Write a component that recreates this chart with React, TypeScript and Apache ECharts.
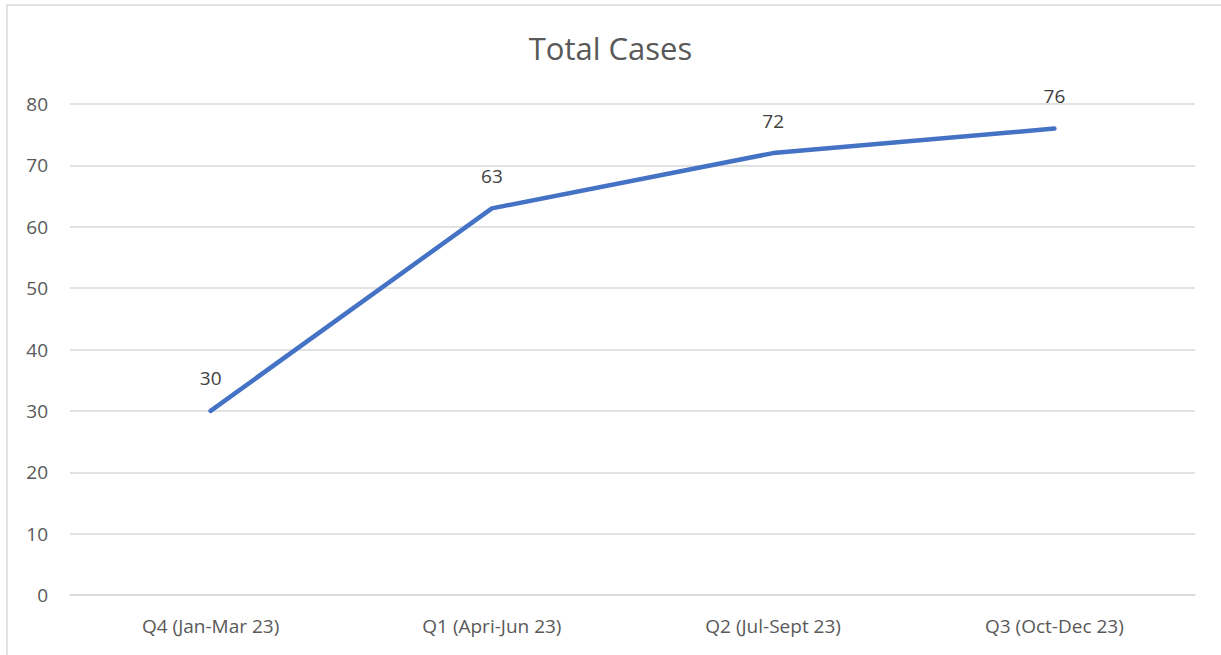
import React, { useEffect, useRef } from "react";
import * as echarts from "echarts";

const categories = ["Q4 (Jan-Mar 23)", "Q1 (Apri-Jun 23)", "Q2 (Jul-Sept 23)", "Q3 (Oct-Dec 23)"];
const totalCases = [30, 63, 72, 76];
const chartTitle = "Total Cases";

export default function App() {
  const ref = useRef<HTMLDivElement>(null);
  useEffect(() => {
    if (!ref.current) return;
    const chart = echarts.init(ref.current, null, { renderer: "svg" });
    const font = "'Open Sans', 'Liberation Sans', sans-serif";
    chart.setOption({
      animation: false,
      backgroundColor: "#ffffff",
      title: {
        text: chartTitle,
        left: "center",
        top: 27,
        textStyle: { fontFamily: font, fontSize: 31, fontWeight: "normal", color: "#595959" },
      },
      graphic: [
        {
          type: "rect",
          shape: { x: 7, y: 5, width: 1400, height: 800 },
          style: { fill: "none", stroke: "#d9d9d9", lineWidth: 1.5 },
          silent: true,
          z: -1,
        },
      ],
      grid: { left: 70, right: 26, top: 104, bottom: 60 },
      xAxis: {
        type: "category",
        data: categories,
        boundaryGap: true,
        axisLine: { lineStyle: { color: "#d9d9d9", width: 1.5 } },
        axisTick: { show: false },
        axisLabel: { color: "#595959", fontFamily: font, fontSize: 19, margin: 21 },
      },
      yAxis: {
        type: "value",
        min: 0,
        max: 80,
        interval: 10,
        axisLine: { show: false },
        axisTick: { show: false },
        splitLine: { lineStyle: { color: "#d9d9d9", width: 1.5 } },
        axisLabel: { color: "#595959", fontFamily: font, fontSize: 19, margin: 22 },
      },
      series: [
        {
          type: "line",
          data: totalCases,
          symbol: "circle",
          symbolSize: 0,
          showSymbol: true,
          lineStyle: { color: "#4472C4", width: 4.5, cap: "round", join: "round" },
          itemStyle: { color: "#4472C4" },
          label: {
            show: true,
            position: "top",
            distance: 23,
            color: "#404040",
            fontFamily: font,
            fontSize: 19,
          },
        },
      ],
    });
    return () => chart.dispose();
  }, []);
  return (
    <div
      ref={ref}
      style={{ position: "absolute", left: 0, top: 0, width: 1221, height: 655 }}
    />
  );
}
